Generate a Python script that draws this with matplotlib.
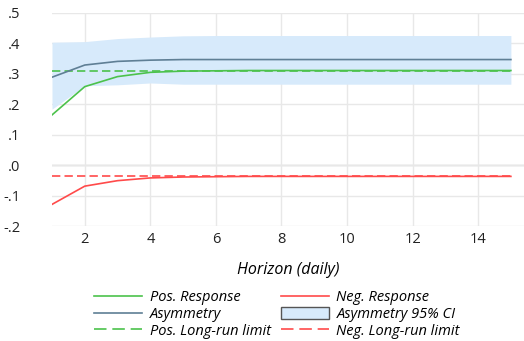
import matplotlib.pyplot as plt
from matplotlib.patches import Patch
from matplotlib.lines import Line2D

horizon = [1, 2, 3, 4, 5, 6, 7, 8, 9, 10, 11, 12, 13, 14, 15]
pos_response = [0.165, 0.258, 0.291, 0.305, 0.309, 0.310, 0.311, 0.311, 0.311, 0.311, 0.311, 0.311, 0.311, 0.311, 0.311]
neg_response = [-0.129, -0.069, -0.051, -0.042, -0.039, -0.038, -0.037, -0.037, -0.037, -0.037, -0.037, -0.037, -0.037, -0.037, -0.037]
asymmetry = [0.289, 0.329, 0.341, 0.345, 0.347, 0.347, 0.347, 0.347, 0.347, 0.347, 0.347, 0.347, 0.347, 0.347, 0.347]
ci_upper = [0.404, 0.406, 0.416, 0.421, 0.425, 0.426, 0.426, 0.426, 0.426, 0.426, 0.426, 0.426, 0.426, 0.426, 0.426]
ci_lower = [0.184, 0.261, 0.264, 0.270, 0.266, 0.266, 0.266, 0.266, 0.266, 0.266, 0.266, 0.266, 0.266, 0.266, 0.266]
pos_long_run = 0.311
neg_long_run = -0.037

y_ticks = [-0.2, -0.1, 0.0, 0.1, 0.2, 0.3, 0.4, 0.5]
y_labels = ["-.2", "-.1", ".0", ".1", ".2", ".3", ".4", ".5"]
x_ticks = [2, 4, 6, 8, 10, 12, 14]

GREEN = "#4cc24c"
RED = "#ff4a4a"
SLATE = "#5f7f95"
CI_FILL = "#d7eafb"
PLOT_DASH = (0, (5, 2.5))
LEGEND_DASH = (0, (7.5, 3.5))

plt.rcParams["font.family"] = ["Open Sans", "DejaVu Sans"]

fig = plt.figure(figsize=(5.24, 3.41), dpi=100)
ax = fig.add_axes([52 / 524, 115 / 341, 472 / 524, 213 / 341])

ax.fill_between(horizon, ci_lower, ci_upper, color=CI_FILL, linewidth=0, zorder=1)
ax.axhline(0, color="#c8c8c8", linewidth=1, zorder=0.5)
ax.plot(horizon, [pos_long_run] * len(horizon), color=GREEN, linestyle=PLOT_DASH, linewidth=1.2, zorder=2)
ax.plot(horizon, [neg_long_run] * len(horizon), color=RED, linestyle=PLOT_DASH, linewidth=1.2, zorder=2)
ax.plot(horizon, pos_response, color=GREEN, linewidth=1.2, zorder=3)
ax.plot(horizon, neg_response, color=RED, linewidth=1.2, zorder=3)
ax.plot(horizon, asymmetry, color=SLATE, linewidth=1.2, zorder=3)

ax.set_xlim(1, 15.4)
ax.set_ylim(-0.2, 0.5)
ax.set_xticks(x_ticks)
ax.set_yticks(y_ticks)
ax.set_yticklabels(y_labels)
ax.tick_params(length=0, labelsize=10.5, colors="#222222")
ax.tick_params(axis="y", pad=23)
ax.tick_params(axis="x", pad=4)
for lbl in ax.get_yticklabels():
    lbl.set_horizontalalignment("right")
ax.grid(True, color="#e8e8e8", linewidth=1, zorder=0)
ax.set_axisbelow(True)
for sp in ax.spines.values():
    sp.set_visible(False)

ax.set_xlabel("Horizon (daily)", fontstyle="italic", fontsize=11.5, labelpad=11)

handles = [
    Line2D([], [], color=GREEN, linewidth=1.2),
    Line2D([], [], color=SLATE, linewidth=1.2),
    Line2D([], [], color=GREEN, linewidth=1.2, linestyle=LEGEND_DASH),
    Line2D([], [], color=RED, linewidth=1.2),
    Patch(facecolor=CI_FILL, edgecolor="#555555", linewidth=1),
    Line2D([], [], color=RED, linewidth=1.2, linestyle=LEGEND_DASH),
]
labels = ["Pos. Response", "Asymmetry", "Pos. Long-run limit",
          "Neg. Response", "Asymmetry 95% CI", "Neg. Long-run limit"]
leg = fig.legend(handles, labels, ncol=2, loc="center", bbox_to_anchor=(277 / 524, 1 - 314.5 / 341),
                 frameon=False, prop={"style": "italic", "size": 10.5},
                 handlelength=3.3, handletextpad=0.5, columnspacing=0.7,
                 labelspacing=0.12, handleheight=0.8)

fig.savefig("out.png", dpi=100)
